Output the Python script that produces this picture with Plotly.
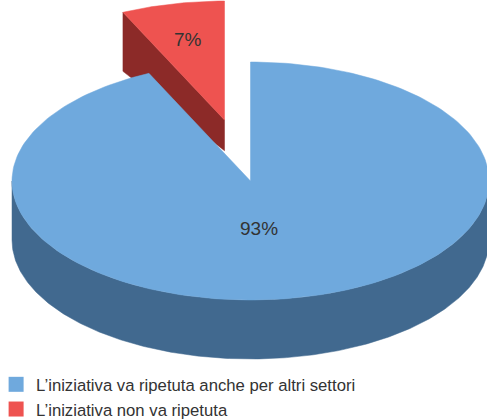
import numpy as np
import plotly.graph_objects as go

labels = ["L’iniziativa va ripetuta anche per altri settori", "L’iniziativa non va ripetuta"]
values = [93, 7]
top_colors = ["#6FA9DD", "#EE5350"]
side_colors = ["#41698F", "#8C2A28"]

W, H = 487, 419
CX, CY, RX, RY, DEPTH = 250.5, 181, 238.5, 119, 59
EXPLODE = (-26, -61)

def wedge(a0, a1, dx=0, dy=0):
    t = np.radians(np.linspace(a0, a1, 240))
    x = CX + dx + RX * np.sin(t)
    y = CY + dy - RY * np.cos(t)
    return np.r_[CX + dx, x, CX + dx], np.r_[CY + dy, y, CY + dy]

a_split = 360 * values[0] / sum(values)
fig = go.Figure()

def poly(x, y, color):
    fig.add_trace(go.Scatter(x=x, y=y, mode="lines", fill="toself", fillcolor=color,
                             line=dict(color=color, width=0.5), showlegend=False, hoverinfo="skip"))

# exploded small slice: cut wall, then top
xr, yr = wedge(a_split, 360, *EXPLODE)
corner = (xr[1], yr[1])
apex = (xr[0], yr[0])
poly([corner[0], apex[0], apex[0], corner[0], corner[0]],
     [corner[1], apex[1], apex[1] + DEPTH * 0.52, corner[1] + DEPTH, corner[1]], side_colors[1])
poly(xr, yr, top_colors[1])

# large slice: outer wall, then top
t = np.radians(np.linspace(90, 270, 300))
ax = CX + RX * np.sin(t)
ay = CY - RY * np.cos(t)
poly(np.r_[ax, ax[::-1]], np.r_[ay, ay[::-1] + DEPTH], side_colors[0])
xb, yb = wedge(0, a_split)
poly(xb, yb, top_colors[0])

# legend entries
for name, c in zip(labels, top_colors):
    fig.add_trace(go.Scatter(x=[None], y=[None], mode="markers", name=name,
                             marker=dict(symbol="square", size=15, color=c)))

fig.add_annotation(x=259, y=228, text=f"{values[0]}%", showarrow=False,
                   font=dict(family="Liberation Sans", size=19, color="#333333"))
fig.add_annotation(x=188, y=39, text=f"{values[1]}%", showarrow=False,
                   font=dict(family="Liberation Sans", size=19, color="#333333"))

fig.update_xaxes(range=[0, W], visible=False, fixedrange=True)
fig.update_yaxes(range=[H, 0], visible=False, fixedrange=True)
fig.update_layout(width=W, height=H, margin=dict(l=0, r=0, t=0, b=0, autoexpand=False),
                  paper_bgcolor="white", plot_bgcolor="white",
                  legend=dict(x=-0.008, y=-0.019, xanchor="left", yanchor="bottom",
                              bgcolor="rgba(0,0,0,0)", itemwidth=30,
                              font=dict(family="Liberation Sans", size=16.7, color="#333333")))
fig.write_html("out.html", post_script="document.body.style.margin='0';",
               config={"displayModeBar": False})
